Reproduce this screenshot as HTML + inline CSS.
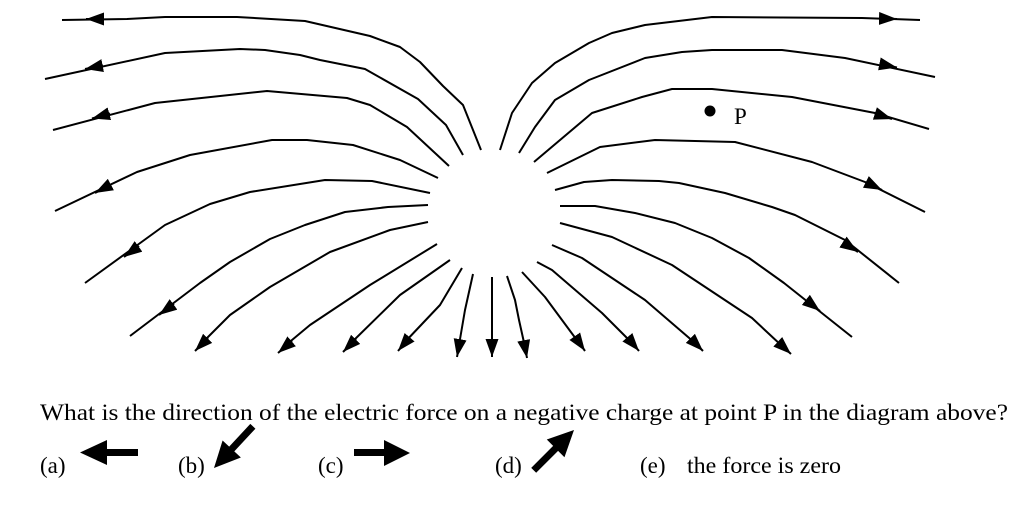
<!DOCTYPE html>
<html><head><meta charset="utf-8"><style>
html,body{margin:0;padding:0;background:#fff;width:1024px;height:518px;overflow:hidden}
svg{display:block}
text{font-family:"Liberation Serif",serif;fill:#000}
</style></head><body>
<svg width="1024" height="518" viewBox="0 0 1024 518" xmlns="http://www.w3.org/2000/svg">
<defs>
<marker id="ah" markerUnits="userSpaceOnUse" markerWidth="18" markerHeight="13" refX="18" refY="6.5" orient="auto">
<path d="M0,0 L18,6.5 L0,13 z" fill="#000"/>
</marker>
</defs>
<g fill="none" stroke="#000" stroke-width="2" stroke-linejoin="round">
<polyline points="62,20 127,19 165,17 237,17 305,21 370,36 400,47 420,62 443,86 463,105 481,150"/>
<polyline points="45,79 165,53 240,49 265,50 300,55 320,60 365,69 418,99 446,125 463,155"/>
<polyline points="53,130 155,103 267,91 347,98 370,105 407,127 449,166"/>
<polyline points="55,211 137,172 190,155 272,140 307,140 353,145 400,160 438,178"/>
<polyline points="85,283 165,225 210,204 250,192 325,180 372,181 430,193"/>
<polyline points="130,336 200,283 230,262 270,239 305,225 345,212 388,207 428,205"/>
<polyline points="203,342 230,315 270,287 330,252 390,230 428,222"/>
<polyline points="286,345 310,325 370,285 437,244"/>
<polyline points="350,344 400,295 450,260"/>
<polyline points="404,343 440,305 462,268"/>
<polyline points="459,345 465,310 473,274"/>
<polyline points="492,345 492,277"/>
<polyline points="500,150 512,113 532,83 555,63 589,43 612,33 645,25 712,17 862,18 920,20"/>
<polyline points="519,153 535,127 555,100 589,80 645,58 682,52 712,50 782,50 845,58 935,77"/>
<polyline points="534,162 592,113 642,97 672,89 712,89 792,97 875,113 929,129"/>
<polyline points="547,173 600,147 655,140 735,142 812,162 865,182 925,212"/>
<polyline points="555,190 584,182 612,180 659,181 679,183 725,193 772,207 795,215 829,232 845,240 899,283"/>
<polyline points="560,206 595,206 635,213 675,223 712,238 749,258 784,283 852,337"/>
<polyline points="560,223 612,237 672,265 752,318 782,346"/>
<polyline points="552,245 582,258 645,300 695,343"/>
<polyline points="537,262 552,270 602,313 632,343"/>
<polyline points="522,272 545,297 579,343"/>
<polyline points="507,276 515,300 519,320 525,347"/>
</g>
<g stroke="#000" stroke-width="2" fill="none" marker-end="url(#ah)">
<path d="M104,19 L86,19"/>
<path d="M103,65.5 L85,69"/>
<path d="M110,113.5 L92,118.5"/>
<path d="M111,184.5 L95,193"/>
<path d="M139,246 L124,257"/>
<path d="M174,304 L159,315"/>
<path d="M208,338 L195,351"/>
<path d="M292,341 L278,353"/>
<path d="M356,339 L343,352"/>
<path d="M409,338 L398,351"/>
<path d="M460,340 L457,357"/>
<path d="M492,340 L492,357"/>
<path d="M880,18.5 L897,19"/>
<path d="M880,64 L897,67.5"/>
<path d="M875,113.5 L892,119"/>
<path d="M866,182 L882,190"/>
<path d="M843,242 L858,252"/>
<path d="M806,300 L820,311"/>
<path d="M778,342 L791,354"/>
<path d="M691,339 L703,351"/>
<path d="M628,338 L639,351"/>
<path d="M576,338 L585,351"/>
<path d="M524,342 L527,358"/>
</g>
<circle cx="710" cy="111" r="5.5" fill="#000"/>
<text x="734" y="124" font-size="23">P</text>
<text x="40" y="420" font-size="23" textLength="968" lengthAdjust="spacingAndGlyphs">What is the direction of the electric force on a negative charge at point P in the diagram above?</text>
<text x="40" y="473" font-size="23">(a)</text>
<text x="178" y="473" font-size="23">(b)</text>
<text x="318" y="473" font-size="23">(c)</text>
<text x="495" y="473" font-size="23">(d)</text>
<text x="640" y="473" font-size="23">(e)</text>
<text x="687" y="473" font-size="23" textLength="154" lengthAdjust="spacingAndGlyphs">the force is zero</text>
<polygon points="80,452.5 107,440 107,449 138,449 138,456 107,456 107,465" fill="#000"/>
<g transform="translate(214,468) rotate(-47)">
<polygon points="0,0 26,-12.5 26,-3.5 57,-3.5 57,3.5 26,3.5 26,12.5" fill="#000"/>
</g>
<polygon points="410,453 384,440 384,449 354,449 354,456 384,456 384,466" fill="#000"/>
<g transform="translate(574,430) rotate(135)">
<polygon points="0,0 26,-12.5 26,-3.5 57,-3.5 57,3.5 26,3.5 26,12.5" fill="#000"/>
</g>
</svg>
</body></html>
